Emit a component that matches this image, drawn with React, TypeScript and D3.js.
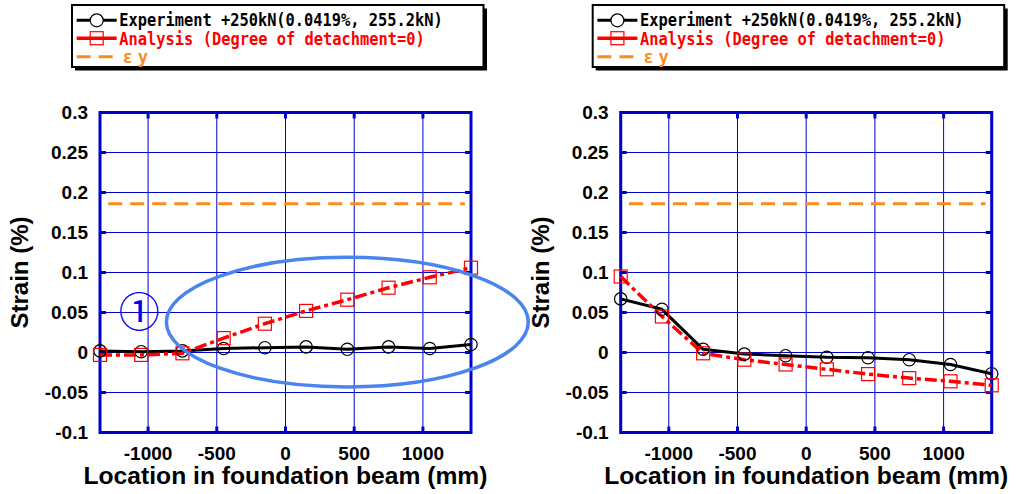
import React from "react";
import * as d3 from "d3";

// ---------- data ----------
const locations = [-1350, -1050, -750, -450, -150, 150, 450, 750, 1050, 1350];
const leftExperiment = [0.002, 0.001, 0.002, 0.005, 0.006, 0.007, 0.004, 0.007, 0.005, 0.01];
const leftAnalysis = [-0.003, -0.003, -0.001, 0.018, 0.036, 0.052, 0.066, 0.081, 0.094, 0.106];
const rightExperiment = [0.067, 0.054, 0.004, -0.002, -0.004, -0.006, -0.0065, -0.009, -0.015, -0.0265];
const rightAnalysis = [0.095, 0.045, -0.001, -0.009, -0.015, -0.021, -0.027, -0.032, -0.036, -0.041];
const yieldStrain = 0.186;
const yieldSpan = [-1290, 1305];
const xTicks = [-1000, -500, 0, 500, 1000];
const yTicks = [-0.1, -0.05, 0, 0.05, 0.1, 0.15, 0.2, 0.25, 0.3];
const yTickLabels = ["-0.1", "-0.05", "0", "0.05", "0.1", "0.15", "0.2", "0.25", "0.3"];
const legendLabels = [
  "Experiment +250kN(0.0419%, 255.2kN)",
  "Analysis (Degree of detachment=0)",
];
const xTitle = "Location in foundation beam (mm)";
const yTitle = "Strain (%)";
// annotation ellipse (data coords) on left panel
const ellipseCenter = [450, 0.038];
const ellipseRadii = [1317, 0.081];
const circledLabel = "①";
const circledPos = [-1065, 0.05];

const BLUE = "#0000cc";
const RED = "#ff0000";
const ORANGE = "#f98c1c";
const ELLIPSE = "#4a84ee";

type PanelProps = {
  dx: number;
  experiment: number[];
  analysis: number[];
  annotate?: boolean;
};

function Panel({ dx, experiment, analysis, annotate }: PanelProps) {
  const x = d3.scaleLinear().domain([-1350, 1350]).range([100 + dx, 471 + dx]);
  const y = d3.scaleLinear().domain([-0.1, 0.3]).range([432.5, 112.5]);
  const line = d3
    .line<number>()
    .x((_, i) => x(locations[i]))
    .y((d) => y(d));
  const [x0, x1] = x.range();
  const [y0, y1] = y.range();
  const tickLen = 6;
  const font = "'Liberation Sans', Arial, sans-serif";
  return (
    <g>
      {/* grid */}
      {xTicks.map((t) => (
        <line key={"gx" + t} x1={x(t)} x2={x(t)} y1={y1} y2={y0} stroke={BLUE} strokeWidth={1} />
      ))}
      {yTicks.map((t) => (
        <line key={"gy" + t} x1={x0} x2={x1} y1={y(t)} y2={y(t)} stroke={BLUE} strokeWidth={1} />
      ))}
      {/* yield strain */}
      <line
        x1={x(yieldSpan[0])}
        x2={x(yieldSpan[1])}
        y1={y(yieldStrain)}
        y2={y(yieldStrain)}
        stroke={ORANGE}
        strokeWidth={3}
        strokeDasharray="14,8"
      />
      {/* frame */}
      <rect x={x0} y={y1} width={x1 - x0} height={y0 - y1} fill="none" stroke={BLUE} strokeWidth={3} />
      {xTicks.map((t) => (
        <g key={"tx" + t}>
          <line x1={x(t)} x2={x(t)} y1={y0} y2={y0 - tickLen} stroke={BLUE} strokeWidth={3} />
          <line x1={x(t)} x2={x(t)} y1={y1} y2={y1 + tickLen} stroke={BLUE} strokeWidth={3} />
        </g>
      ))}
      {yTicks.map((t) => (
        <g key={"ty" + t}>
          <line x1={x0} x2={x0 + tickLen} y1={y(t)} y2={y(t)} stroke={BLUE} strokeWidth={3} />
          <line x1={x1} x2={x1 - tickLen} y1={y(t)} y2={y(t)} stroke={BLUE} strokeWidth={3} />
        </g>
      ))}
      {/* tick labels */}
      {yTicks.map((t, i) => (
        <text
          key={"ly" + t}
          x={x0 - 12}
          y={y(t) + 6.5}
          textAnchor="end"
          fontFamily={font}
          fontWeight="bold"
          fontSize={19}
          fill="#000"
        >
          {yTickLabels[i]}
        </text>
      ))}
      {xTicks.map((t) => (
        <text
          key={"lx" + t}
          x={x(t)}
          y={459.5}
          textAnchor="middle"
          fontFamily={font}
          fontWeight="bold"
          fontSize={19}
          fill="#000"
        >
          {t}
        </text>
      ))}
      {/* axis titles */}
      <text
        x={(x0 + x1) / 2}
        y={484}
        textAnchor="middle"
        fontFamily={font}
        fontWeight="bold"
        fontSize={23.5}
        textLength={404}
        lengthAdjust="spacingAndGlyphs"
        fill="#000"
      >
        {xTitle}
      </text>
      <text
        transform={`translate(${28 + dx},272.5) rotate(-90)`}
        textAnchor="middle"
        fontFamily={font}
        fontWeight="bold"
        fontSize={24}
        fill="#000"
      >
        {yTitle}
      </text>
      {/* series */}
      <path d={line(experiment) || ""} fill="none" stroke="#000" strokeWidth={3} strokeLinejoin="round" />
      <path d={line(analysis) || ""} fill="none" stroke={RED} strokeWidth={3.5} strokeDasharray="12,4,4,4" />
      {experiment.map((v, i) => (
        <circle key={"c" + i} cx={x(locations[i])} cy={y(v)} r={6.2} fill="none" stroke="#000" strokeWidth={1.2} />
      ))}
      {analysis.map((v, i) => (
        <rect
          key={"s" + i}
          x={x(locations[i]) - 6.5}
          y={y(v) - 6.5}
          width={13}
          height={13}
          fill="none"
          stroke={RED}
          strokeWidth={1.2}
        />
      ))}
      {annotate && (
        <g>
          <ellipse
            cx={x(ellipseCenter[0])}
            cy={y(ellipseCenter[1])}
            rx={x(ellipseRadii[0]) - x(0)}
            ry={y(0) - y(ellipseRadii[1])}
            fill="none"
            stroke={ELLIPSE}
            strokeWidth={3.5}
          />
          <text
            x={x(circledPos[0])}
            y={y(circledPos[1]) + 14}
            textAnchor="middle"
            fontFamily="'Noto Sans CJK JP', sans-serif"
            fontSize={41}
            fill="#0000ee"
          >
            {circledLabel}
          </text>
        </g>
      )}
    </g>
  );
}

function Legend({ dx }: { dx: number }) {
  const lx0 = 76.7 + dx;
  const lx1 = 116.7 + dx;
  const tx = 119.3 + dx;
  const mono = "'DejaVu Sans Mono', monospace";
  return (
    <g>
      <rect x={75 + dx} y={8.5} width={412} height={62} fill="#000" />
      <rect x={72 + dx} y={5} width={411.5} height={62} fill="#fff" stroke="#000" strokeWidth={2} />
      {/* experiment */}
      <line x1={lx0} x2={lx1} y1={20.3} y2={20.3} stroke="#000" strokeWidth={3} />
      <circle cx={(lx0 + lx1) / 2} cy={20.3} r={6.5} fill="#fff" stroke="#000" strokeWidth={1.2} />
      <text x={tx} y={26.3} fontFamily={mono} fontWeight="bold" fontSize={17} textLength={323.4} lengthAdjust="spacingAndGlyphs" fill="#000">
        {legendLabels[0]}
      </text>
      {/* analysis */}
      <line x1={lx0} x2={lx1} y1={38.2} y2={38.2} stroke={RED} strokeWidth={3.5} />
      <rect x={(lx0 + lx1) / 2 - 6.5} y={31.7} width={13} height={13} fill="none" stroke={RED} strokeWidth={1.2} />
      <text x={tx} y={44.5} fontFamily={mono} fontWeight="bold" fontSize={17} textLength={305.6} lengthAdjust="spacingAndGlyphs" fill={RED}>
        {legendLabels[1]}
      </text>
      {/* yield */}
      <line x1={lx0} x2={lx1} y1={56.7} y2={56.7} stroke={ORANGE} strokeWidth={3} strokeDasharray="14,8" />
      <text y={62.6} fontFamily={mono} fontWeight="bold" fontSize={17} fill={ORANGE}>
        <tspan x={tx + 3.5}>ε</tspan>
        <tspan x={tx + 18.5}>y</tspan>
      </text>
    </g>
  );
}

export default function App() {
  const dxRight = 520.7;
  return (
    <svg
      width={1019}
      height={494}
      style={{ position: "absolute", left: 0, top: 0, background: "#fff" }}
    >
      <rect width={1019} height={494} fill="#fff" />
      <Panel dx={0} experiment={leftExperiment} analysis={leftAnalysis} annotate />
      <Panel dx={dxRight} experiment={rightExperiment} analysis={rightAnalysis} />
      <Legend dx={0} />
      <Legend dx={dxRight} />
    </svg>
  );
}
